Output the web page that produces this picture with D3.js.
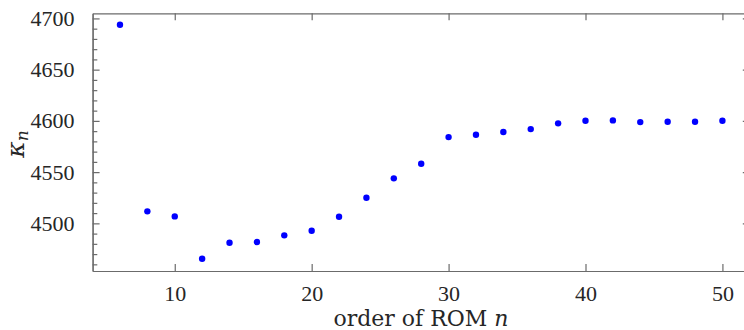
<!DOCTYPE html>
<html>
<head>
<meta charset="utf-8">
<script src="https://cdn.jsdelivr.net/npm/d3@7/dist/d3.min.js"></script>
<style>
    body { margin: 0; background: #fff; }
    .axis path, .axis line { stroke: #6b6b6b; stroke-width: 1.2px; }
    .axis text { font-family: "Liberation Serif", serif; font-size: 22px; fill: #262626; }
    .label { font-family: "DejaVu Serif", serif; font-size: 22px; fill: #262626; }
</style>
</head>
<body>
<svg class="graph"></svg>
<script>
// порядок ROM
const orders = [6, 8, 10, 12, 14, 16, 18, 20, 22, 24, 26, 28, 30, 32, 34, 36, 38, 40, 42, 44, 46, 48, 50];
// kappa_n
const kappa = [4693.8, 4511.7, 4506.8, 4465.5, 4481.1, 4481.8, 4488.3, 4492.8, 4506.4, 4525.0, 4543.9, 4558.1,
    4584.2, 4586.4, 4589.1, 4592.0, 4597.6, 4600.1, 4600.5, 4598.8, 4599.1, 4599.1, 4600.1];
const xTicks = [10, 20, 30, 40, 50];
const yTicks = [4500, 4550, 4600, 4650, 4700];
const yMinorTicks = [4460, 4470, 4480, 4490, 4510, 4520, 4530, 4540, 4560, 4570, 4580, 4590,
    4610, 4620, 4630, 4640, 4660, 4670, 4680, 4690];

const size = {width: 744, height: 330};
const margin = {left: 92.6, right: -5.8, top: 13.3, bottom: 59};
const w = size.width - margin.left - margin.right;
const h = size.height - margin.top - margin.bottom;

const svg = d3.select(".graph")
    .attr("width", size.width)
    .attr("height", size.height);

const paper = svg.append("g")
    .attr("transform", `translate(${margin.left},${margin.top})`);

const x = d3.scaleLinear().domain([4, 52]).range([0, w]);
const y = d3.scaleLinear().domain([4453.5, 4705]).range([h, 0]);

// оси
paper.append("g")
    .attr("class", "axis")
    .attr("transform", `translate(0,${h})`)
    .call(d3.axisBottom(x).tickValues(xTicks).tickSizeInner(-7).tickSizeOuter(0).tickPadding(14))
    .call(g => g.selectAll("text").attr("dy", "0.71em"));

paper.append("g")
    .attr("class", "axis")
    .call(d3.axisTop(x).tickValues(xTicks).tickSizeInner(-7).tickSizeOuter(0).tickFormat(""));

paper.append("g")
    .attr("class", "axis")
    .call(d3.axisLeft(y).tickValues(yMinorTicks).tickSizeInner(-4.7).tickSizeOuter(0).tickFormat(""));

paper.append("g")
    .attr("class", "axis")
    .call(d3.axisLeft(y).tickValues(yTicks).tickSizeInner(-7).tickSizeOuter(0).tickPadding(18)
        .tickFormat(d3.format("d")));

paper.append("g")
    .attr("class", "axis")
    .attr("transform", `translate(${w},0)`)
    .call(d3.axisRight(y).tickValues(yTicks).tickSizeInner(-7).tickSizeOuter(0).tickFormat(""));

// точки
paper.selectAll(".dot")
    .data(orders.map((n, i) => ({n, k: kappa[i]})))
    .enter()
    .append("circle")
    .attr("class", "dot")
    .attr("cx", d => x(d.n))
    .attr("cy", d => y(d.k))
    .attr("r", 3.2)
    .attr("fill", "#0000ff");

// подписи
svg.append("text")
    .attr("class", "label")
    .attr("x", 421)
    .attr("y", 326)
    .attr("text-anchor", "middle")
    .html('order of ROM <tspan font-style="italic">n</tspan>');

svg.append("text")
    .attr("class", "label")
    .attr("transform", "translate(24,144) rotate(-90)")
    .attr("text-anchor", "middle")
    .html('<tspan font-style="italic" font-size="25px">κ</tspan><tspan font-style="italic" font-size="17px" dy="4">n</tspan>');
</script>
</body>
</html>
